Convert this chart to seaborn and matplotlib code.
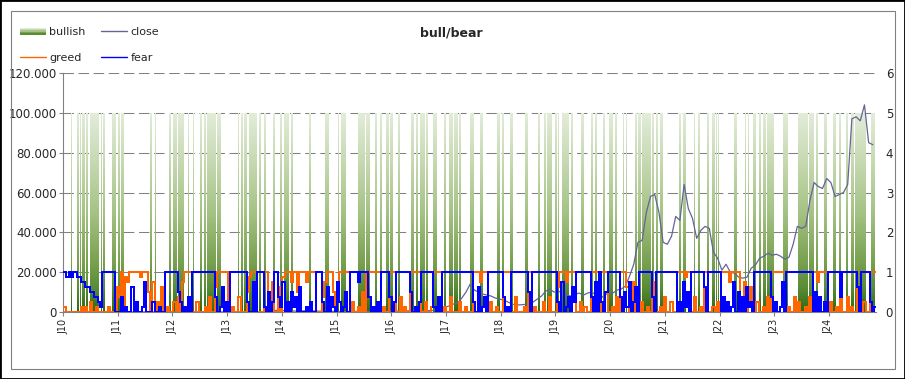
#bull/bear chart: bullish weeks as bars, close price, greed / fear
import numpy as np
import pandas as pd
import matplotlib
matplotlib.use("Agg")
import matplotlib.pyplot as plt
import matplotlib.dates as mdates
import seaborn as sns
from matplotlib.path import Path
from matplotlib.patches import Rectangle
from matplotlib.colors import LinearSegmentedColormap
from matplotlib.legend_handler import HandlerBase
from matplotlib.lines import Line2D
from matplotlib.ticker import FuncFormatter

#Data, weekly calendar from the first sunday of 2010
start = "2010-01-03"
n_weeks = 775

#bullish weeks: first week index and number of weeks
bull_start = [7, 13, 16, 18, 22, 25, 36, 38, 46, 52, 55, 83, 87, 101, 105, 109, 119, 124, 130, 134,
              137, 147, 167, 169, 172, 177, 187, 191, 200, 207, 210, 212, 217, 234, 250, 262, 265, 281, 289, 297,
              302, 308, 312, 319, 332, 336, 340, 346, 353, 363, 368, 373, 377, 388, 397, 414, 418, 426, 440, 453,
              458, 461, 469, 472, 476, 484, 494, 503, 507, 515, 520, 526, 534, 537, 545, 548, 552, 561, 565, 569,
              587, 591, 601, 605, 614, 619, 622, 624, 640, 650, 653, 658, 663, 667, 671, 686, 701, 711, 718, 725,
              734, 740, 746, 751, 755, 770]
bull_len = [1, 2, 1, 3, 2, 9, 1, 2, 4, 2, 3, 2, 1, 2, 3, 6, 1, 1, 2, 2,
            9, 3, 1, 2, 3, 8, 2, 2, 2, 2, 2, 3, 2, 2, 3, 1, 5, 7, 3, 2,
            2, 3, 2, 2, 2, 2, 5, 2, 3, 2, 4, 3, 2, 4, 3, 2, 2, 3, 3, 2,
            2, 5, 2, 1, 6, 2, 3, 2, 2, 2, 4, 2, 1, 1, 2, 3, 8, 2, 2, 3,
            2, 3, 1, 2, 2, 2, 1, 1, 2, 1, 1, 3, 2, 3, 7, 5, 9, 5, 2, 3,
            3, 2, 2, 3, 10, 4]

#close, one value every 4 weeks
close = [0, 0, 0, 0, 0, 0, 0, 0, 0, 0, 0, 0, 0,
         1, 1, 1, 5, 15, 15, 10, 5, 3, 3, 3, 3, 4,
         5, 5, 5, 5, 5, 6, 7, 9, 11, 11, 11, 12, 13,
         13, 20, 30, 90, 130, 100, 110, 100, 130, 150, 200, 500, 900,
         800, 600, 500, 450, 450, 600, 630, 580, 480, 400, 350, 380, 320,
         250, 230, 250, 230, 240, 260, 280, 240, 230, 250, 330, 370, 430,
         400, 420, 450, 450, 550, 700, 650, 600, 620, 700, 750,
         1000, 1500, 2500, 3000, 4000, 4500, 7000, 10000, 14000, 11000,
         10000, 9000, 8500, 8000, 7000, 6500, 6000, 5000, 4000, 3500,
         3600, 3800, 4000, 5000, 6500, 8000, 10500, 11500, 10000, 10500,
         9500, 8500, 8000, 9000, 9500, 8500, 9500, 10000, 8500, 6500,
         8500, 9500, 9500, 11000, 11500, 13000, 18000, 24000, 35000, 36000,
         50000, 58000, 59000, 50000, 35000, 34000, 38000, 48000, 46000, 64000,
         52000, 47000, 37000, 41000, 43000, 42000, 30000, 27000, 21000, 24000,
         20000, 19500, 17500, 17000, 17500, 22000, 23500, 27000, 28000, 29500,
         28500, 29000, 28000, 26500, 27500, 34000, 43000, 42000, 43000, 56000,
         65000, 63000, 62000, 67000, 65000, 58000, 59000, 60000, 64000, 97000,
         98000, 96000, 104000, 85000, 84000]

#greed and fear every 2 weeks, digit d means d/8 on the right axis
greed_code = ("1100000" "001010200100" "000100" "05380768" "88887888" "40602050" "010020" "306" "8888"
              "00200010300" "5" "88888" "2" "01003000" "47" "888" "000" "88" "306" "00" "507" "888688" "4"
              "88868888" "000" "36" "888" "405" "88888" "02001040" "8888888" "0100" "888" "0030100" "88888"
              "002001" "8888" "010030002001000" "8886888" "0200100" "8888" "00300010" "88" "010002003000"
              "5" "88868888" "0020100" "8888" "0" "888" "001030" "888" "502603" "020010" "62" "0010300200"
              "8888788" "030010" "88" "001020" "888868888" "3060250" "02001030" "8888888" "0100302001030"
              "8868888" "020010" "8" "0030100" "88" "0200" "888")
fear_code = ("8878788" "776655443321" "888888" "000301005020016000200100" "888888" "4201030" "88888888888"
             "3015020" "88888888" "20" "060888" "10402" "88" "3160204130" "50" "010200" "888"
             "2050310620140" "888868888" "301020" "8888" "302" "8888888" "40102" "888888" "1030"
             "888888888888888" "2050130" "8888888" "3010" "88888888" "40" "888888888888" "206013052"
             "8888888" "3060" "8" "204" "888888" "304160250" "888888" "30" "8888888888" "0206140" "888888"
             "50" "888888" "0302016040305120" "88888888" "3020160" "8888888888888" "0403020" "888888" "3"
             "8888888" "50" "8888" "201")

greed = [int(c) / 8 for c in greed_code]
fear = [int(c) / 8 for c in fear_code]

years = list(range(2010, 2025))
year_labels = ["J%02d" % (y % 100) for y in years]

#x values as matplotlib date numbers
week_x = mdates.date2num(pd.date_range(start, periods=n_weeks, freq="7D"))
close_x = mdates.date2num(pd.date_range(start, periods=len(close), freq="28D"))
greed_x = mdates.date2num(pd.date_range(start, periods=len(greed), freq="14D"))
fear_x = mdates.date2num(pd.date_range(start, periods=len(fear), freq="14D"))
year_x = mdates.date2num(pd.to_datetime(["%d-01-01" % y for y in years]))
x_end = week_x[-1] + 7

sns.set_style("white")
plt.rcParams["font.family"] = ["DejaVu Sans"]

fig = plt.figure(figsize=(9.05, 3.79), dpi=100)
fig.patch.set_facecolor("white")
ax = fig.add_axes([63 / 905, 1 - 312 / 379, 813 / 905, 239 / 379])

#Gradient bars for bullish weeks
bar_colors = ["#2c6913", "#5a8c36", "#78a150", "#a5c385", "#c6d9b1", "#e3ecd9"]
bar_cmap = LinearSegmentedColormap.from_list("bull", list(zip([0, 0.12, 0.25, 0.5, 0.75, 1.0], bar_colors)))
bars = ax.bar(week_x[bull_start], 100000, width=np.array(bull_len) * 7, align="edge",
              color="none", linewidth=0)
paths = [b.get_path().transformed(b.get_patch_transform()) for b in bars]
grad = np.linspace(0, 1, 256).reshape(-1, 1)
im = ax.imshow(grad, cmap=bar_cmap, origin="lower", aspect="auto", interpolation="bilinear",
               extent=[week_x[0], x_end, 0, 100000], zorder=1)
im.set_clip_path(Path.make_compound_path(*paths), ax.transData)

#Close on the left axis
sns.lineplot(x=close_x, y=close, ax=ax, color="#646496", linewidth=0.9, estimator=None, zorder=2)

#Greed and fear on the right axis, drawn crisp like the original
ax2 = ax.twinx()
sns.lineplot(x=greed_x, y=greed, ax=ax2, color="#ff6600", linewidth=1.1, estimator=None,
             drawstyle="steps-mid", antialiased=False)
sns.lineplot(x=fear_x, y=fear, ax=ax2, color="#0000ff", linewidth=1.1, estimator=None,
             drawstyle="steps-mid", antialiased=False)

ax.set_xlim(year_x[0], x_end)
ax.set_ylim(0, 120000)
ax2.set_ylim(0, 6)
ax.set_yticks(range(0, 120001, 20000))
ax.yaxis.set_major_formatter(FuncFormatter(lambda v, p: f"{v:,.0f}".replace(",", ".")))
ax2.set_yticks(range(0, 7))
ax.set_xticks(year_x)
ax.set_xticklabels(year_labels, rotation=90, fontsize=7)
ax.set_xlabel("")
ax.set_ylabel("")
ax2.set_ylabel("")

ax.set_axisbelow(True)
ax.grid(axis="y", color="#808080", linewidth=0.75, linestyle=(0, (10, 4.5)))
ax.grid(axis="x", visible=False)

for a in (ax, ax2):
    for s in ["top", "right", "left", "bottom"]:
        a.spines[s].set_visible(False)
ax.spines["left"].set_visible(True)
ax.spines["bottom"].set_visible(True)
ax.spines["left"].set_color("#808080")
ax.spines["bottom"].set_color("#808080")
ax.spines["left"].set_linewidth(0.8)
ax.spines["bottom"].set_linewidth(0.8)

ax.tick_params(axis="y", left=True, length=3, width=0.8, color="#808080", pad=1.5, labelsize=8.5)
ax.tick_params(axis="x", bottom=True, length=3, width=0.8, color="#808080", pad=2)
ax2.tick_params(axis="y", right=False, length=0, pad=7, labelsize=8.5)
ax2.tick_params(axis="x", bottom=False, labelbottom=False)

#Legend with gradient patch
class GradientHandler(HandlerBase):
    def create_artists(self, legend, orig_handle, xdescent, ydescent, width, height, fontsize, trans):
        cols = bar_colors[1:][::-1]
        n = len(cols)
        arts = []
        for i, c in enumerate(cols):
            arts.append(Rectangle((-xdescent, -ydescent + height * (n - 1 - i) / n), width, height / n,
                                  facecolor=c, edgecolor="none", transform=trans))
        return arts

bull_proxy = Rectangle((0, 0), 1, 1)
handles = [bull_proxy, Line2D([], [], color="#ff6600", lw=1.0),
           Line2D([], [], color="#646496", lw=1.0), Line2D([], [], color="#0000ff", lw=1.0)]
labels = ["bullish", "greed", "close", "fear"]
fig.legend(handles, labels, loc="upper left", bbox_to_anchor=(20 / 905, 1 - 27 / 379), ncol=2,
           frameon=False, fontsize=8, borderpad=0, borderaxespad=0, handlelength=2.35,
           handletextpad=0.3, columnspacing=1.4, labelspacing=1.4, handleheight=0.6,
           handler_map={bull_proxy: GradientHandler()})

fig.text(451 / 905, 1 - 33 / 379, "bull/bear", ha="center", va="center", fontsize=9, fontweight="bold")

#Borders
fig.patches.append(Rectangle((10.5 / 905, 10.5 / 379), 884 / 905, 358 / 379, transform=fig.transFigure,
                             fill=False, edgecolor="#808080", linewidth=0.8))
fig.patches.append(Rectangle((0, 0), 1, 1, transform=fig.transFigure, fill=False,
                             edgecolor="black", linewidth=2))

plt.savefig("out.png", dpi=100)
